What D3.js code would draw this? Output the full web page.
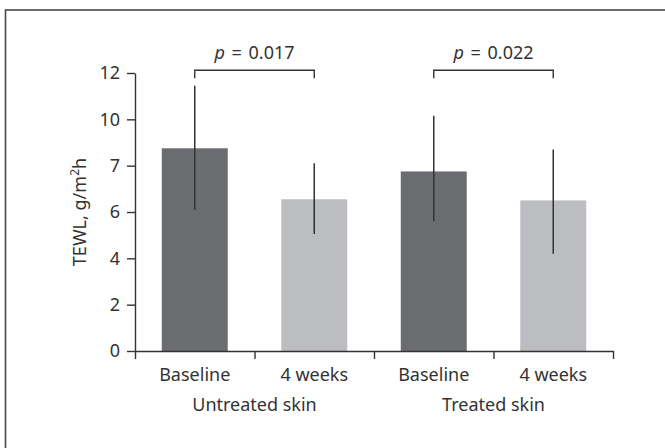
<!DOCTYPE html>
<html>
<head>
<meta charset="utf-8">
<script src="https://cdn.jsdelivr.net/npm/d3@7"></script>
<style>
  body { margin: 0; background: #fff; }
  svg { display: block; font-family: "Noto Sans", "Open Sans", sans-serif; }
</style>
</head>
<body>
<div id="chart"></div>
<script>
// chart data
var groups = ["Untreated skin", "Treated skin"];
var timepoints = ["Baseline", "4 weeks"];
var means = [8.75, 6.55, 7.75, 6.5];
var errLow = [6.1, 5.05, 5.6, 4.2];
var errHigh = [11.45, 8.1, 10.15, 8.7];
var barColors = ["#6b6c70", "#bcbdc1", "#6b6c70", "#bcbdc1"];
var pValues = ["0.017", "0.022"];
var yTicks = [0, 2, 4, 6, 8, 10, 12];
var yTickLabels = ["0", "2", "4", "6", "7", "10", "12"];

var width = 665, height = 448;
var margin = { top: 73, right: 52, bottom: 97, left: 135 };
var innerW = width - margin.left - margin.right;
var innerH = height - margin.top - margin.bottom;

// one key per bar
var keys = [];
groups.forEach(function (g, gi) {
  timepoints.forEach(function (t, ti) {
    keys.push({ group: g, time: t, i: gi * timepoints.length + ti });
  });
});

var svg = d3.select("#chart").append("svg")
  .attr("width", width)
  .attr("height", height);

// outer frame (only top and left edges are in view)
svg.append("rect")
  .attr("x", 5.5).attr("y", 10)
  .attr("width", 800).attr("height", 600)
  .attr("fill", "none")
  .attr("stroke", "#4a4a4a")
  .attr("stroke-width", 1.6);

var g = svg.append("g")
  .attr("transform", "translate(" + margin.left + "," + margin.top + ")");

var x = d3.scaleBand()
  .domain(keys.map(function (d) { return d.i; }))
  .range([0, innerW])
  .paddingInner(0.448)
  .paddingOuter(0.224);

// slots for the tick marks between bars
var slot = d3.scaleLinear().domain([0, keys.length]).range([0, innerW]);

var y = d3.scaleLinear().domain([0, 12]).range([innerH, 0]);

// bars
g.selectAll(".bar")
  .data(keys)
  .enter()
  .append("rect")
  .attr("class", "bar")
  .attr("x", function (d) { return x(d.i); })
  .attr("y", function (d) { return y(means[d.i]); })
  .attr("width", x.bandwidth())
  .attr("height", function (d) { return innerH - y(means[d.i]); })
  .attr("fill", function (d) { return barColors[d.i]; });

// error bars (no caps)
g.selectAll(".err")
  .data(keys)
  .enter()
  .append("line")
  .attr("class", "err")
  .attr("x1", function (d) { return x(d.i) + x.bandwidth() / 2; })
  .attr("x2", function (d) { return x(d.i) + x.bandwidth() / 2; })
  .attr("y1", function (d) { return y(errHigh[d.i]); })
  .attr("y2", function (d) { return y(errLow[d.i]); })
  .attr("stroke", "#333")
  .attr("stroke-width", 1.5);

// y axis
var yAxis = g.append("g")
  .call(d3.axisLeft(y)
    .tickValues(yTicks)
    .tickFormat(function (d, i) { return yTickLabels[i]; })
    .tickSize(8)
    .tickSizeOuter(0)
    .tickPadding(7));

// x axis with ticks at the slot edges
var xAxis = g.append("g")
  .attr("transform", "translate(0," + innerH + ")")
  .call(d3.axisBottom(slot)
    .tickValues(d3.range(keys.length + 1))
    .tickFormat("")
    .tickSize(8)
    .tickSizeOuter(0));

[yAxis, xAxis].forEach(function (ax) {
  ax.selectAll("path, line").attr("stroke", "#333").attr("stroke-width", 1.4);
  ax.selectAll("text")
    .attr("fill", "#333")
    .style("font-size", "18px")
    .style("font-family", "'Noto Sans', 'Open Sans', sans-serif");
});

// timepoint labels
g.selectAll(".tlabel")
  .data(keys)
  .enter()
  .append("text")
  .attr("class", "tlabel")
  .attr("x", function (d) { return x(d.i) + x.bandwidth() / 2; })
  .attr("y", innerH + 30)
  .attr("text-anchor", "middle")
  .attr("fill", "#333")
  .style("font-size", "18px")
  .text(function (d) { return d.time; });

// group labels
g.selectAll(".glabel")
  .data(groups)
  .enter()
  .append("text")
  .attr("class", "glabel")
  .attr("x", function (d, i) { return slot(i * 2 + 1); })
  .attr("y", innerH + 60)
  .attr("text-anchor", "middle")
  .attr("fill", "#333")
  .style("font-size", "18px")
  .text(function (d) { return d; });

// y axis title
var yTitle = svg.append("text")
  .attr("transform", "translate(86," + (margin.top + innerH / 2) + ") rotate(-90)")
  .attr("text-anchor", "middle")
  .attr("fill", "#333")
  .style("font-size", "18px");
yTitle.append("tspan").text("TEWL, g/m");
yTitle.append("tspan").attr("dy", -7).style("font-size", "12px").text("2");
yTitle.append("tspan").attr("dy", 7).text("h");

// significance brackets
var bracketTop = y(12.12);
pValues.forEach(function (p, gi) {
  var x1 = x(gi * 2) + x.bandwidth() / 2;
  var x2 = x(gi * 2 + 1) + x.bandwidth() / 2;
  g.append("path")
    .attr("d", "M" + x1 + "," + (bracketTop + 8) + "V" + bracketTop + "H" + x2 + "V" + (bracketTop + 8))
    .attr("fill", "none")
    .attr("stroke", "#333")
    .attr("stroke-width", 1.4);
  var t = g.append("text")
    .attr("x", (x1 + x2) / 2)
    .attr("y", bracketTop - 11)
    .attr("text-anchor", "middle")
    .attr("fill", "#333")
    .style("font-size", "18px")
    .style("word-spacing", "2px");
  t.append("tspan").style("font-style", "italic").text("p");
  t.append("tspan").text(" = " + p);
});
</script>
</body>
</html>
